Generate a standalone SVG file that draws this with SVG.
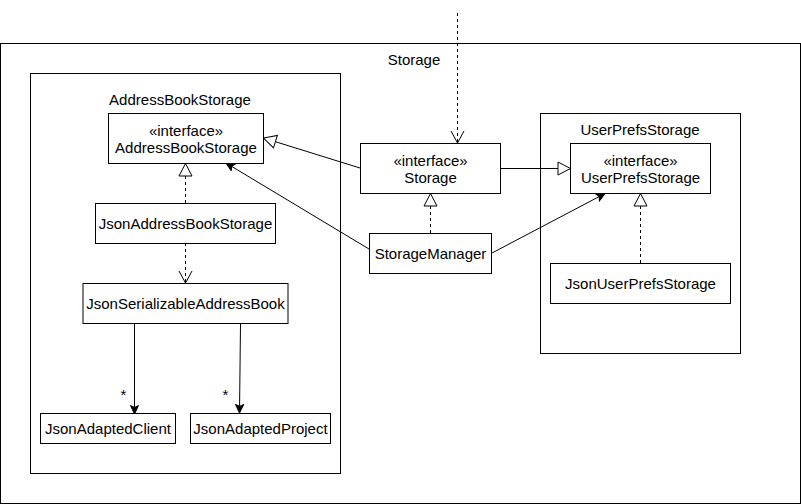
<svg xmlns="http://www.w3.org/2000/svg" width="801" height="504" viewBox="0 0 801 504">
<style>
  text { font-family: "Liberation Sans", Arial, sans-serif; font-size: 15px; fill: #000; text-anchor: middle; }
  .box { fill: #fff; stroke: #000; stroke-width: 1; }
  .pkg { fill: none; stroke: #000; stroke-width: 1; }
  .edge { fill: none; stroke: #000; stroke-width: 1; }
  .dash { stroke-dasharray: 3 3; }
</style>
<defs>
  <marker id="tri" markerUnits="userSpaceOnUse" markerWidth="15" markerHeight="15" viewBox="0 0 15 15" refX="14" refY="7.5" orient="auto">
    <path d="M1.5,1 L14,7.5 L1.5,14 Z" fill="#fff" stroke="#000" stroke-width="1" stroke-dasharray="none"/>
  </marker>
  <marker id="open" markerUnits="userSpaceOnUse" markerWidth="15" markerHeight="15" viewBox="0 0 15 15" refX="14" refY="7.5" orient="auto">
    <path d="M2,1 L14,7.5 L2,14" fill="none" stroke="#000" stroke-width="1" stroke-dasharray="none"/>
  </marker>
  <marker id="fill" markerUnits="userSpaceOnUse" markerWidth="10" markerHeight="10" viewBox="0 0 10 10" refX="9" refY="5" orient="auto">
    <path d="M0.5,1 L9,5 L0.5,9 L2.5,5 Z" fill="#000" stroke="#000" stroke-width="1" stroke-dasharray="none"/>
  </marker>
</defs>
<rect width="801" height="504" fill="#fff"/>

<g id="pkg-storage">
  <rect class="pkg" x="0.5" y="43.5" width="800" height="460"/>
  <text x="414" y="64.5">Storage</text>
</g>
<g id="pkg-addressbookstorage">
  <rect class="pkg" x="30.5" y="73.5" width="310" height="400"/>
  <text x="180" y="104.5">AddressBookStorage</text>
</g>
<g id="pkg-userprefsstorage">
  <rect class="pkg" x="540.5" y="113.5" width="200" height="240"/>
  <text x="640" y="134.5">UserPrefsStorage</text>
</g>

<g id="connectors">
  <path class="edge dash" d="M457.5,13 L457.5,143" marker-end="url(#open)"/>
  <path class="edge" d="M360,168 L263.5,138" marker-end="url(#tri)"/>
  <path class="edge" d="M369,249 L226,163" marker-end="url(#fill)"/>
  <path class="edge" d="M500.5,168.5 L570.5,168.5" marker-end="url(#tri)"/>
  <path class="edge" d="M492,253 L605,193.5" marker-end="url(#fill)"/>
  <path class="edge dash" d="M430.5,233 L430.5,193.5" marker-end="url(#tri)"/>
  <path class="edge dash" d="M185.5,203 L185.5,163.5" marker-end="url(#tri)"/>
  <path class="edge dash" d="M185.5,243 L185.5,283" marker-end="url(#open)"/>
  <path class="edge dash" d="M640.5,263 L640.5,193.5" marker-end="url(#tri)"/>
  <path class="edge" d="M134.5,323.5 L134.5,414" marker-end="url(#fill)"/>
  <path class="edge" d="M240.5,323.5 L239.5,413" marker-end="url(#fill)"/>
  <text x="123.5" y="400">*</text>
  <text x="225.5" y="400">*</text>
</g>

<g id="node-addressbookstorage-if">
  <rect class="box" x="108.5" y="113.5" width="155" height="50"/>
  <text x="186" y="136">«interface»</text>
  <text x="186" y="153">AddressBookStorage</text>
</g>
<g id="node-jsonaddressbookstorage">
  <rect class="box" x="95.5" y="203.5" width="180" height="40"/>
  <text x="185.5" y="229">JsonAddressBookStorage</text>
</g>
<g id="node-jsonserializableaddressbook">
  <rect class="box" x="83" y="283.5" width="205" height="40"/>
  <text x="185.5" y="309">JsonSerializableAddressBook</text>
</g>
<g id="node-jsonadaptedclient">
  <rect class="box" x="40.5" y="413.5" width="135" height="30"/>
  <text x="108" y="434">JsonAdaptedClient</text>
</g>
<g id="node-jsonadaptedproject">
  <rect class="box" x="190.5" y="413.5" width="140" height="30"/>
  <text x="260.5" y="434">JsonAdaptedProject</text>
</g>
<g id="node-storage-if">
  <rect class="box" x="360.5" y="143.5" width="140" height="50"/>
  <text x="430.5" y="166">«interface»</text>
  <text x="430.5" y="183">Storage</text>
</g>
<g id="node-storagemanager">
  <rect class="box" x="369.5" y="233.5" width="122" height="40"/>
  <text x="430.5" y="259">StorageManager</text>
</g>
<g id="node-userprefsstorage-if">
  <rect class="box" x="570.5" y="143.5" width="140" height="50"/>
  <text x="640.5" y="166">«interface»</text>
  <text x="640.5" y="183">UserPrefsStorage</text>
</g>
<g id="node-jsonuserprefsstorage">
  <rect class="box" x="550.5" y="263.5" width="180" height="40"/>
  <text x="640.5" y="289">JsonUserPrefsStorage</text>
</g>
</svg>
